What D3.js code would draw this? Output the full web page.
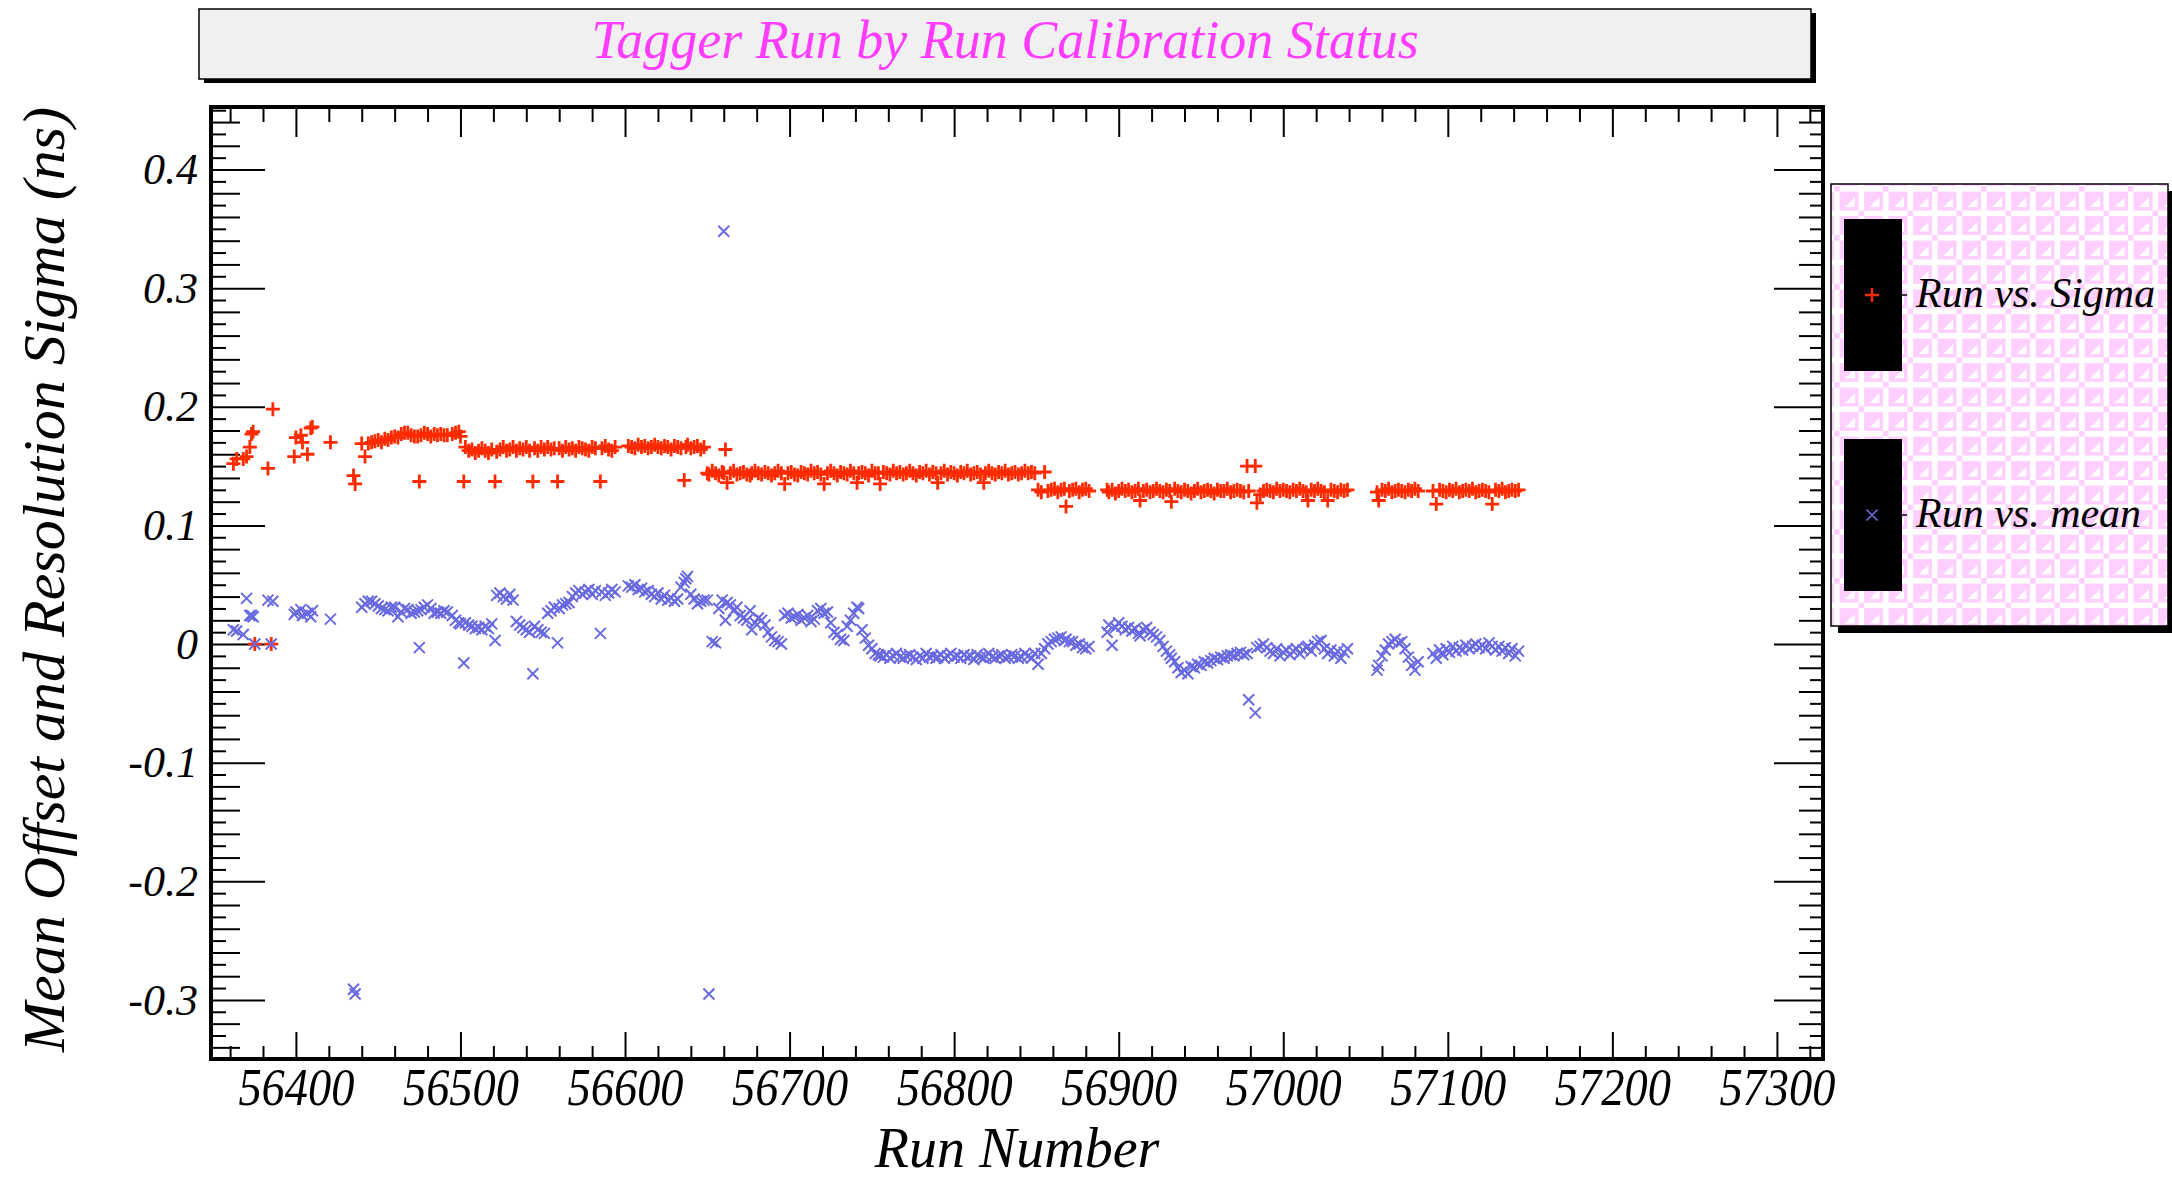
<!DOCTYPE html>
<html>
<head>
<meta charset="utf-8">
<script src="https://cdn.jsdelivr.net/npm/d3@7"></script>
<style>
  html, body { margin: 0; padding: 0; background: #ffffff; }
  svg { display: block; }
  text { font-family: "Liberation Serif", "DejaVu Serif", serif; font-style: italic; }
</style>
</head>
<body>
<svg id="chart" width="2172" height="1181"></svg>
<script>
// Tagger calibration per run: resolution sigma and mean offset (ns)
const runs = [
  56362, 56364, 56368, 56370, 56372, 56373, 56374, 56375, 56383, 56385, 56386,
  56399, 56400, 56403, 56404, 56407, 56409, 56410, 56421, 56435, 56436,
  56440, 56442, 56444, 56446, 56448, 56450, 56452, 56454, 56456, 56458, 56460, 56462, 56464, 56466, 56468, 56470,
  56472, 56474, 56475, 56476, 56478, 56480, 56482, 56484, 56486, 56488, 56490, 56492, 56495, 56497, 56499,
  56500, 56502, 56503, 56505, 56507, 56509, 56511, 56513, 56515, 56517, 56519, 56521, 56522, 56524, 56526, 56528,
  56530, 56532, 56534, 56536, 56538, 56540, 56542, 56544, 56545, 56547, 56549, 56551, 56553, 56555, 56557, 56559,
  56560, 56562, 56564, 56566, 56568, 56570, 56572, 56574, 56576, 56578, 56580, 56582, 56585, 56586, 56588, 56590,
  56592, 56594,
  56602, 56604, 56606, 56608, 56610, 56612, 56614, 56616, 56618, 56620, 56622, 56624, 56626, 56628, 56630, 56632,
  56634, 56636, 56637, 56638, 56640, 56642, 56644, 56646, 56648,
  56650, 56651, 56653, 56655, 56657, 56659, 56660, 56661, 56662, 56664, 56666, 56668, 56670, 56672, 56674, 56676,
  56677, 56679, 56681, 56683, 56685, 56687, 56689, 56691, 56693, 56695, 56697, 56699, 56701, 56703, 56705, 56707,
  56709, 56711, 56713, 56715, 56717, 56719, 56721, 56723, 56725, 56727, 56729, 56731, 56733, 56735, 56737, 56739,
  56741, 56742, 56744, 56746, 56748, 56750, 56752, 56754, 56755, 56757, 56759, 56761, 56763, 56765, 56767, 56769,
  56771, 56773, 56775, 56777, 56779, 56781, 56783, 56785, 56787, 56789, 56790, 56792, 56794, 56796, 56798, 56800,
  56802, 56804, 56806, 56808, 56810, 56812, 56814, 56816, 56818, 56819, 56821, 56823, 56825, 56827, 56829, 56831,
  56833, 56835, 56837, 56839, 56841, 56843, 56845, 56847, 56849, 56851, 56853, 56855, 56857, 56859, 56861,
  56863, 56865, 56867, 56868, 56870, 56872, 56874, 56876, 56878, 56880, 56882,
  56893, 56894, 56896, 56898, 56900, 56902, 56904, 56906, 56908, 56910, 56912, 56913, 56915, 56917, 56919, 56921,
  56923, 56925, 56927, 56929, 56931, 56932, 56934, 56936, 56938, 56940, 56942, 56944, 56946, 56948, 56950, 56952,
  56954, 56956, 56958, 56960, 56962, 56964, 56966, 56968, 56970, 56972, 56974, 56976, 56978, 56979, 56983, 56984,
  56986, 56988, 56990, 56992, 56994, 56996, 56998, 57000, 57002, 57004, 57006, 57008, 57010, 57012, 57014, 57015,
  57017, 57019, 57021, 57023, 57025, 57027, 57029, 57031, 57033, 57035, 57037, 57039,
  57057, 57058, 57060, 57062, 57064, 57066, 57068, 57070, 57072, 57074, 57076, 57078, 57080, 57082,
  57091, 57093, 57095, 57097, 57099, 57101, 57103, 57105, 57107, 57109, 57111, 57113, 57115, 57117, 57119, 57121,
  57123, 57125, 57127, 57129, 57131, 57133, 57135, 57137, 57139, 57141, 57143
];

const sigma = [
  0.152, 0.156, 0.156, 0.158, 0.166, 0.177, 0.179, 0.000, 0.148, 0.000, 0.198,
  0.158, 0.174, 0.176, 0.170, 0.160, 0.182, 0.183, 0.170, 0.142, 0.135,
  0.169, 0.158, 0.169, 0.170, 0.171, 0.172, 0.170, 0.173, 0.172, 0.174, 0.175, 0.174, 0.177, 0.178, 0.178, 0.176,
  0.175, 0.175, 0.137, 0.176, 0.178, 0.177, 0.175, 0.177, 0.176, 0.177, 0.176, 0.176, 0.177, 0.178, 0.179,
  0.175, 0.137, 0.166, 0.163, 0.164, 0.161, 0.163, 0.165, 0.163, 0.161, 0.164, 0.137, 0.162, 0.164, 0.166, 0.163,
  0.164, 0.166, 0.163, 0.165, 0.164, 0.166, 0.163, 0.137, 0.165, 0.163, 0.166, 0.164, 0.166, 0.164, 0.165, 0.137,
  0.165, 0.163, 0.166, 0.164, 0.165, 0.163, 0.166, 0.165, 0.164, 0.163, 0.166, 0.165, 0.137, 0.165, 0.167, 0.164,
  0.163, 0.166,
  0.167, 0.166, 0.165, 0.168, 0.166, 0.167, 0.165, 0.166, 0.168, 0.166, 0.165, 0.167, 0.166, 0.164, 0.167, 0.166,
  0.165, 0.138, 0.166, 0.168, 0.165, 0.166, 0.167, 0.164, 0.166,
  0.144, 0.143, 0.146, 0.144, 0.142, 0.145, 0.144, 0.164, 0.136, 0.144, 0.146, 0.143, 0.144, 0.145, 0.143, 0.142,
  0.144, 0.146, 0.144, 0.143, 0.145, 0.144, 0.142, 0.144, 0.146, 0.144, 0.135, 0.144, 0.145, 0.143, 0.142, 0.145,
  0.144, 0.143, 0.146, 0.144, 0.145, 0.143, 0.135, 0.144, 0.146, 0.144, 0.142, 0.145, 0.144, 0.143, 0.146, 0.144,
  0.136, 0.144, 0.145, 0.144, 0.142, 0.146, 0.144, 0.144, 0.135, 0.145, 0.144, 0.143, 0.146, 0.144, 0.145, 0.143,
  0.144, 0.146, 0.144, 0.142, 0.145, 0.144, 0.146, 0.143, 0.145, 0.144, 0.136, 0.144, 0.146, 0.143, 0.145, 0.144,
  0.142, 0.145, 0.144, 0.146, 0.143, 0.144, 0.145, 0.143, 0.136, 0.144, 0.146, 0.144, 0.143, 0.145, 0.144, 0.146,
  0.143, 0.144, 0.145, 0.143, 0.144, 0.146, 0.144, 0.145, 0.144, 0.130, 0.128, 0.145, 0.129, 0.130, 0.131,
  0.128, 0.130, 0.131, 0.116, 0.129, 0.130, 0.131, 0.128, 0.130, 0.131, 0.129,
  0.130, 0.128, 0.130, 0.127, 0.129, 0.131, 0.129, 0.130, 0.128, 0.129, 0.131, 0.121, 0.129, 0.130, 0.128, 0.129,
  0.131, 0.129, 0.128, 0.130, 0.129, 0.120, 0.131, 0.129, 0.128, 0.130, 0.129, 0.127, 0.129, 0.131, 0.128, 0.129,
  0.130, 0.129, 0.127, 0.130, 0.129, 0.129, 0.131, 0.128, 0.129, 0.130, 0.129, 0.128, 0.150, 0.129, 0.150, 0.119,
  0.126, 0.129, 0.130, 0.129, 0.128, 0.131, 0.129, 0.130, 0.129, 0.128, 0.130, 0.129, 0.131, 0.129, 0.128, 0.121,
  0.130, 0.129, 0.131, 0.129, 0.128, 0.121, 0.130, 0.129, 0.128, 0.130, 0.129, 0.130,
  0.128, 0.121, 0.130, 0.129, 0.131, 0.128, 0.129, 0.130, 0.129, 0.128, 0.130, 0.129, 0.131, 0.129,
  0.129, 0.118, 0.130, 0.129, 0.128, 0.130, 0.129, 0.131, 0.128, 0.129, 0.130, 0.129, 0.131, 0.128, 0.129, 0.130,
  0.129, 0.128, 0.118, 0.130, 0.129, 0.131, 0.128, 0.129, 0.130, 0.129, 0.130
];

const mean = [
  0.012, 0.011, 0.008, 0.0385, 0.024, 0.024, 0.023, 0.000, 0.037, 0.000, 0.036,
  0.025, 0.027, 0.029, 0.024, 0.026, 0.023, 0.028, 0.021, -0.291, -0.295,
  0.031, 0.034, 0.036, 0.036, 0.034, 0.032, 0.030, 0.029, 0.028, 0.031, 0.031, 0.023, 0.027, 0.030, 0.029, 0.026,
  0.027, 0.028, -0.003, 0.029, 0.031, 0.033, 0.030, 0.026, 0.027, 0.026, 0.028, 0.027, 0.024, 0.020, 0.018,
  0.017, -0.016, 0.018, 0.016, 0.015, 0.013, 0.014, 0.012, 0.015, 0.013, 0.017, 0.003, 0.041, 0.043, 0.040, 0.038,
  0.042, 0.037, 0.019, 0.016, 0.014, 0.012, 0.010, -0.025, 0.015, 0.012, 0.010, 0.009, 0.026, 0.028, 0.031, 0.001,
  0.030, 0.033, 0.034, 0.035, 0.040, 0.043, 0.045, 0.042, 0.044, 0.046, 0.042, 0.045, 0.009, 0.044, 0.041, 0.043,
  0.046, 0.044,
  0.049, 0.048, 0.050, 0.046, 0.047, 0.044, 0.045, 0.042, 0.040, 0.043, 0.038, 0.041, 0.037, 0.039, 0.036, 0.038,
  0.048, 0.052, 0.055, 0.057, 0.042, 0.038, 0.034, 0.036, 0.037,
  0.037, -0.295, 0.002, 0.001, 0.030, 0.037, 0.348, 0.020, 0.035, 0.033, 0.028, 0.031, 0.024, 0.022, 0.020, 0.028,
  0.012, 0.018, 0.022, 0.020, 0.016, 0.010, 0.006, 0.003, 0.002, 0.000, 0.024, 0.026, 0.022, 0.023, 0.025, 0.020,
  0.022, 0.024, 0.019, 0.021, 0.028, 0.030, 0.026, 0.027, 0.018, 0.010, 0.008, 0.004, 0.003, 0.015, 0.020, 0.026,
  0.031, 0.030, 0.012, 0.005, -0.001, -0.004, -0.008, -0.009, -0.010, -0.011, -0.009, -0.012, -0.010, -0.008, -0.011, -0.012,
  -0.010, -0.009, -0.011, -0.013, -0.010, -0.012, -0.008, -0.011, -0.010, -0.012, -0.011, -0.009, -0.012, -0.010, -0.008, -0.011,
  -0.010, -0.012, -0.009, -0.011, -0.010, -0.013, -0.009, -0.011, -0.012, -0.010, -0.008, -0.011, -0.012, -0.010, -0.009, -0.012,
  -0.011, -0.009, -0.010, -0.012, -0.011, -0.008, -0.010, -0.012, -0.008, -0.017, -0.008, -0.004, 0.000, 0.002, 0.004,
  0.005, 0.006, 0.003, 0.004, 0.002, 0.002, -0.001, 0.000, -0.003, -0.004, -0.002,
  0.010, 0.016, -0.001, 0.014, 0.018, 0.015, 0.012, 0.014, 0.011, 0.013, 0.009, 0.007, 0.012, 0.014, 0.010, 0.008,
  0.006, 0.003, -0.002, -0.006, -0.009, -0.012, -0.015, -0.020, -0.024, -0.022, -0.025, -0.019, -0.020, -0.017, -0.018, -0.015,
  -0.016, -0.014, -0.012, -0.013, -0.011, -0.012, -0.010, -0.009, -0.010, -0.008, -0.007, -0.009, -0.008, -0.047, -0.058, -0.003,
  -0.002, 0.000, -0.003, -0.006, -0.008, -0.004, -0.010, -0.007, -0.005, -0.009, -0.006, -0.004, -0.008, -0.005, -0.003, -0.002,
  -0.006, -0.001, 0.002, 0.003, -0.004, -0.008, -0.005, -0.010, -0.006, -0.012, -0.007, -0.004,
  -0.022, -0.018, -0.010, -0.005, 0.000, 0.002, 0.004, 0.001, 0.002, -0.004, -0.011, -0.018, -0.022, -0.015,
  -0.008, -0.012, -0.005, -0.009, -0.004, -0.007, -0.002, -0.006, -0.003, -0.005, -0.001, -0.004, -0.002, 0.000, -0.003, -0.001,
  -0.004, 0.001, -0.002, -0.005, -0.002, -0.006, -0.003, -0.008, -0.004, -0.010, -0.006
];

const seriesNames = ["Run vs. Sigma", "Run vs. mean"];
const xTickValues = [56400, 56500, 56600, 56700, 56800, 56900, 57000, 57100, 57200, 57300];
const yTickValues = [-0.3, -0.2, -0.1, 0, 0.1, 0.2, 0.3, 0.4];
const titleText = "Tagger Run by Run Calibration Status";
const xTitle = "Run Number";
const yTitle = "Mean Offset and Resolution Sigma (ns)";

const svg = d3.select("#chart");
const frame = { left: 211, right: 1823, top: 107, bottom: 1059 };

const x = d3.scaleLinear().domain([56348.4, 57328]).range([frame.left, frame.right]);
const y = d3.scaleLinear().domain([-0.3498, 0.4527]).range([frame.bottom, frame.top]);

const RED = "#ff2a00";
const BLUE = "#6a6ae0";
const PINK = "#ffd0ff";

// ---- legend fill pattern: pink boxes on a white lattice ----
const defs = svg.append("defs");
const pat = defs.append("pattern")
  .attr("id", "legendFill").attr("patternUnits", "userSpaceOnUse")
  .attr("width", 35).attr("height", 35)
  .attr("patternTransform", "translate(1834,186) scale(1.4)");
pat.append("rect").attr("width", 35).attr("height", 35).attr("fill", "#ffffff");
pat.append("rect").attr("x", 4).attr("y", 4).attr("width", 13.5).attr("height", 13.5).attr("fill", PINK);
pat.append("rect").attr("x", 21.5).attr("y", 4).attr("width", 13.5).attr("height", 13.5).attr("fill", PINK);
pat.append("rect").attr("x", 4).attr("y", 21.5).attr("width", 13.5).attr("height", 13.5).attr("fill", PINK);
pat.append("rect").attr("x", 21.5).attr("y", 21.5).attr("width", 13.5).attr("height", 13.5).attr("fill", PINK);
pat.append("rect").attr("x", 17.5).attr("y", 17.5).attr("width", 4).attr("height", 4).attr("fill", PINK);
pat.append("rect").attr("x", 0).attr("y", 0).attr("width", 4).attr("height", 4).attr("fill", PINK);
// small white wedges inside the pink boxes
pat.append("path").attr("fill", "#ffffff")
  .attr("d", "M8,15L15,15L15,8Z M25.5,15L32.5,15L32.5,8Z M8,32.5L15,32.5L15,25.5Z M25.5,32.5L32.5,32.5L32.5,25.5Z");

// ---- title box ----
svg.append("rect").attr("x", 204).attr("y", 13).attr("width", 1612).attr("height", 70).attr("fill", "#000");
svg.append("rect").attr("x", 199).attr("y", 9).attr("width", 1612).attr("height", 70)
  .attr("fill", "#f0f0f0").attr("stroke", "#000").attr("stroke-width", 1.5);
svg.append("text").attr("x", 1005).attr("y", 58).attr("text-anchor", "middle")
  .attr("font-size", 54).attr("fill", "#ff3cff").text(titleText);

// ---- axes ----
function yAxisAt(gen, pos, size, values) {
  return svg.append("g").attr("transform", `translate(${pos},0)`)
    .call(gen(y).tickValues(values).tickSize(size).tickFormat(""))
    .call(g => g.select(".domain").remove())
    .call(g => g.selectAll("line").attr("stroke", "#000").attr("stroke-width", 2));
}
function xAxisAt(gen, pos, size, values) {
  return svg.append("g").attr("transform", `translate(0,${pos})`)
    .call(gen(x).tickValues(values).tickSize(size).tickFormat(""))
    .call(g => g.select(".domain").remove())
    .call(g => g.selectAll("line").attr("stroke", "#000").attr("stroke-width", 2));
}

const hundredths = d3.range(-34, 46);
const yMinor = hundredths.filter(i => Math.abs(i) % 2 === 1).map(i => i / 100);
const yMed = hundredths.filter(i => i % 2 === 0 && i % 10 !== 0).map(i => i / 100);
const xMinor = d3.range(56360, 57328, 20).filter(v => v % 100 !== 0);

yAxisAt(d3.axisLeft, frame.left, -15, yMinor);
yAxisAt(d3.axisLeft, frame.left, -29, yMed);
yAxisAt(d3.axisLeft, frame.left, -54, yTickValues);
yAxisAt(d3.axisRight, frame.right, -13, yMinor);
yAxisAt(d3.axisRight, frame.right, -24, yMed);
yAxisAt(d3.axisRight, frame.right, -49, yTickValues);
xAxisAt(d3.axisBottom, frame.bottom, -13, xMinor);
xAxisAt(d3.axisBottom, frame.bottom, -27, xTickValues);
xAxisAt(d3.axisTop, frame.top, -15, xMinor);
xAxisAt(d3.axisTop, frame.top, -30, xTickValues);

// tick labels (plain hyphen for negatives)
const yFmt = d => d === 0 ? "0" : d3.format(".1f")(d).replace("\u2212", "-");
const yLab = svg.append("g").attr("transform", `translate(${frame.left},0)`)
  .call(d3.axisLeft(y).tickValues(yTickValues).tickSize(0).tickPadding(13).tickFormat(yFmt));
yLab.select(".domain").remove();
yLab.selectAll("text").attr("font-size", 44).attr("fill", "#000")
  .style("font-family", "'Liberation Serif', serif").style("font-style", "italic");

const xLab = svg.append("g").attr("transform", `translate(0,${frame.bottom})`)
  .call(d3.axisBottom(x).tickValues(xTickValues).tickSize(0).tickFormat(d3.format("d")));
xLab.select(".domain").remove();
xLab.selectAll("text").attr("font-size", 52).attr("fill", "#000")
  .attr("y", 46).attr("dy", 0)
  .attr("textLength", 116).attr("lengthAdjust", "spacingAndGlyphs")
  .style("font-family", "'Liberation Serif', serif").style("font-style", "italic");

// axis titles
svg.append("text").attr("x", (frame.left + frame.right) / 2).attr("y", 1167)
  .attr("text-anchor", "middle").attr("font-size", 56).attr("fill", "#000").text(xTitle);
svg.append("text").attr("transform", `translate(64,${frame.top}) rotate(-90)`)
  .attr("text-anchor", "end").attr("font-size", 60).attr("fill", "#000").text(yTitle);

// ---- markers ----
const pts = runs.map((r, i) => ({ run: r, s: sigma[i], m: mean[i] }));
const PLUS = "M-7,0H7M0,-7V7";
const CROSS = "M-5.5,-5.5L5.5,5.5M-5.5,5.5L5.5,-5.5";
const plot = svg.append("g");
plot.selectAll("path.sig").data(pts).join("path").attr("class", "sig")
  .attr("transform", d => `translate(${x(d.run)},${y(d.s)})`)
  .attr("d", PLUS).attr("stroke", RED).attr("stroke-width", 2.8).attr("fill", "none");
plot.selectAll("path.mean").data(pts).join("path").attr("class", "mean")
  .attr("transform", d => `translate(${x(d.run)},${y(d.m)})`)
  .attr("d", CROSS).attr("stroke", BLUE).attr("stroke-width", 2).attr("fill", "none");

// frame
svg.append("rect").attr("x", frame.left).attr("y", frame.top)
  .attr("width", frame.right - frame.left).attr("height", frame.bottom - frame.top)
  .attr("fill", "none").attr("stroke", "#000").attr("stroke-width", 4);

// ---- legend ----
const leg = svg.append("g");
leg.append("rect").attr("x", 1838).attr("y", 191).attr("width", 337).attr("height", 442).attr("fill", "#000");
leg.append("rect").attr("x", 1831).attr("y", 184).attr("width", 337).attr("height", 442)
  .attr("fill", "url(#legendFill)").attr("stroke", "#000").attr("stroke-width", 1.5);
const entries = [
  { name: seriesNames[0], top: 219, mk: PLUS, color: RED, w: 2.4 },
  { name: seriesNames[1], top: 439, mk: CROSS, color: BLUE, w: 1.7 }
];
entries.forEach(e => {
  leg.append("rect").attr("x", 1844).attr("y", e.top).attr("width", 58).attr("height", 152).attr("fill", "#000");
  leg.append("line").attr("x1", 1902).attr("x2", 1907).attr("y1", e.top + 76).attr("y2", e.top + 76)
    .attr("stroke", "#000").attr("stroke-width", 1.5);
  leg.append("path").attr("transform", `translate(1872,${e.top + 76})`).attr("d", e.mk)
    .attr("stroke", e.color).attr("stroke-width", e.w).attr("fill", "none");
  leg.append("text").attr("x", 1916).attr("y", e.top + 88).attr("font-size", 42).attr("fill", "#000").text(e.name);
});
</script>
</body>
</html>
